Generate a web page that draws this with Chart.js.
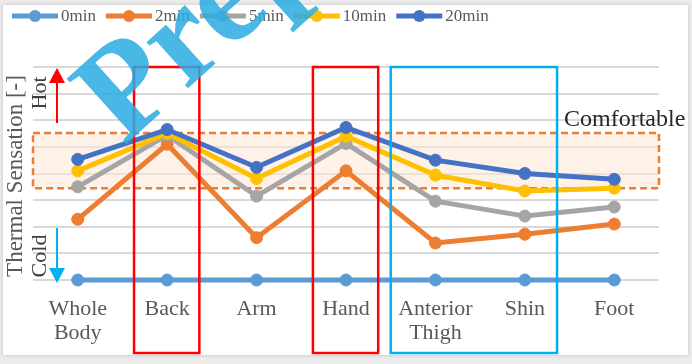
<!DOCTYPE html>
<html lang="en">
<head>
    <meta charset="UTF-8">
    <title>Thermal Sensation</title>
    <style>
        html, body {
            margin: 0;
            padding: 0;
            width: 692px;
            height: 364px;
            overflow: hidden;
            background-color: #ececec;
        }
        .card {
            position: absolute;
            left: 3px;
            top: 5px;
            width: 685px;
            height: 350px;
            background-color: #ffffff;
            box-shadow: 0 0 4px rgba(0, 0, 0, 0.18);
        }
        .chart-box {
            position: absolute;
            left: 0;
            top: 0;
            width: 692px;
            height: 364px;
        }
    </style>
</head>
<body>
    <div class="card"></div>
    <div class="chart-box"><canvas id="myChart"></canvas></div>

    <script src="https://cdn.jsdelivr.net/npm/chart.js"></script>
    <script>
        // data
        const categories = [['Whole', 'Body'], 'Back', 'Arm', 'Hand', ['Anterior', 'Thigh'], 'Shin', 'Foot'];
        const seriesNames = ['0min', '2min', '5min', '10min', '20min'];
        const min0 = [0, 0, 0, 0, 0, 0, 0];
        const min2 = [2.28, 5.1, 1.59, 4.1, 1.39, 1.72, 2.1];
        const min5 = [3.5, 5.44, 3.15, 5.13, 2.96, 2.4, 2.74];
        const min10 = [4.1, 5.51, 3.81, 5.4, 3.94, 3.34, 3.45];
        const min20 = [4.53, 5.65, 4.23, 5.73, 4.5, 4.0, 3.78];
        const yMin = 0, yMax = 8, yStep = 1;
        const comfortRange = [3.45, 5.52];
        // highlighted categories: [first index, last index, colour]
        const highlights = [[1, 1, '#ff0000'], [3, 3, '#ff0000'], [4, 5, '#00b0f0']];

        const colors = ['#5b9bd5', '#ed7d31', '#a5a5a5', '#ffc000', '#4472c4'];
        const serif = 'Liberation Serif';
        const allSeries = [min0, min2, min5, min10, min20];

        const datasets = allSeries.map((vals, i) => ({
            label: seriesNames[i],
            data: vals,
            borderColor: colors[i],
            backgroundColor: colors[i],
            borderWidth: 5,
            pointRadius: 6,
            pointBorderWidth: 1,
            pointHoverRadius: 6,
            tension: 0,
            clip: false,
            order: allSeries.length - i
        }));

        // legend, comfort zone, boxes, arrows and labels
        const extras = {
            id: 'extras',
            beforeDatasetsDraw(chart) {
                const ctx = chart.ctx, a = chart.chartArea, y = chart.scales.y;
                const top = y.getPixelForValue(comfortRange[1]);
                const bot = y.getPixelForValue(comfortRange[0]);
                ctx.save();
                ctx.fillStyle = 'rgba(251, 229, 214, 0.55)';
                ctx.fillRect(a.left, top, a.right - a.left, bot - top);
                ctx.strokeStyle = '#ed7d31';
                ctx.lineWidth = 2.5;
                ctx.setLineDash([7, 4]);
                ctx.strokeRect(a.left, top, a.right - a.left, bot - top);
                ctx.restore();
            },
            afterDatasetsDraw(chart) {
                const ctx = chart.ctx, a = chart.chartArea, x = chart.scales.x;
                const step = x.getPixelForValue(1) - x.getPixelForValue(0);
                ctx.save();
                ctx.lineWidth = 2.5;
                highlights.forEach(([i0, i1, c]) => {
                    const l = x.getPixelForValue(i0) - step * (c === '#00b0f0' ? 0.5 : 0.37);
                    const r = x.getPixelForValue(i1) + step * 0.36;
                    ctx.strokeStyle = c;
                    ctx.strokeRect(l, a.top, r - l, 353 - a.top);
                });

                // hot / cold arrows
                const ax = a.left + 24;
                const arrow = (y0, y1, c) => {
                    const dir = y1 > y0 ? 1 : -1;
                    ctx.strokeStyle = c;
                    ctx.fillStyle = c;
                    ctx.lineWidth = 2;
                    ctx.beginPath();
                    ctx.moveTo(ax, y0);
                    ctx.lineTo(ax, y1 - dir * 14);
                    ctx.stroke();
                    ctx.beginPath();
                    ctx.moveTo(ax, y1);
                    ctx.lineTo(ax - 8, y1 - dir * 15);
                    ctx.lineTo(ax + 8, y1 - dir * 15);
                    ctx.closePath();
                    ctx.fill();
                };
                arrow(123, 68, '#ff0000');
                arrow(228, 283, '#00b0f0');

                const vtext = (t, cx, cy, size, col) => {
                    ctx.save();
                    ctx.translate(cx, cy);
                    ctx.rotate(-Math.PI / 2);
                    ctx.font = size + 'px "' + serif + '"';
                    ctx.fillStyle = col;
                    ctx.textAlign = 'center';
                    ctx.textBaseline = 'middle';
                    ctx.fillText(t, 0, 0);
                    ctx.restore();
                };
                vtext('Hot', 40, 93, 22, '#404040');
                vtext('Cold', 40, 256, 22, '#404040');
                vtext('Thermal Sensation [-]', 16, 176, 23, '#595959');

                ctx.font = '24px "' + serif + '"';
                ctx.fillStyle = '#262626';
                ctx.textAlign = 'left';
                ctx.textBaseline = 'alphabetic';
                ctx.fillText('Comfortable', 564, 126);

                // legend
                ctx.font = '17px "' + serif + '"';
                ctx.textBaseline = 'middle';
                let lx = 12;
                const ly = 16;
                chart.data.datasets.forEach(ds => {
                    ctx.strokeStyle = ds.borderColor;
                    ctx.fillStyle = ds.borderColor;
                    ctx.lineWidth = 5;
                    ctx.beginPath();
                    ctx.moveTo(lx, ly);
                    ctx.lineTo(lx + 46, ly);
                    ctx.stroke();
                    ctx.beginPath();
                    ctx.arc(lx + 23, ly, 6, 0, Math.PI * 2);
                    ctx.fill();
                    ctx.fillStyle = '#595959';
                    ctx.fillText(ds.label, lx + 49, ly + 1);
                    lx += 49 + ctx.measureText(ds.label).width + 10;
                });
                ctx.restore();
            },
            afterDraw(chart) {
                // watermark
                const ctx = chart.ctx;
                ctx.save();
                ctx.globalAlpha = 0.85;
                ctx.fillStyle = '#29abe2';
                ctx.font = 'bold 135px "' + serif + '"';
                ctx.translate(124, 146);
                ctx.rotate(-42 * Math.PI / 180);
                ctx.fillText('Preprint', 0, 0);
                ctx.restore();
            }
        };

        const ctx = document.getElementById('myChart').getContext('2d');
        new Chart(ctx, {
            type: 'line',
            data: { labels: categories, datasets: datasets },
            options: {
                responsive: true,
                maintainAspectRatio: false,
                animation: false,
                layout: { padding: { left: 33, right: 33, top: 67, bottom: 0 } },
                plugins: {
                    legend: { display: false },
                    tooltip: { enabled: false }
                },
                scales: {
                    x: {
                        offset: true,
                        grid: { display: false, drawTicks: false },
                        border: { display: false },
                        ticks: {
                            color: '#595959',
                            padding: 17,
                            maxRotation: 0,
                            autoSkip: false,
                            font: { family: serif, size: 22, lineHeight: 1.1 }
                        },
                        afterFit(s) { s.height = 84; }
                    },
                    y: {
                        min: yMin,
                        max: yMax,
                        ticks: { display: false, stepSize: yStep },
                        grid: { color: '#d9d9d9', lineWidth: 2, drawTicks: false },
                        border: { display: false },
                        afterFit(s) { s.width = 0; }
                    }
                }
            },
            plugins: [extras]
        });
    </script>
</body>
</html>
